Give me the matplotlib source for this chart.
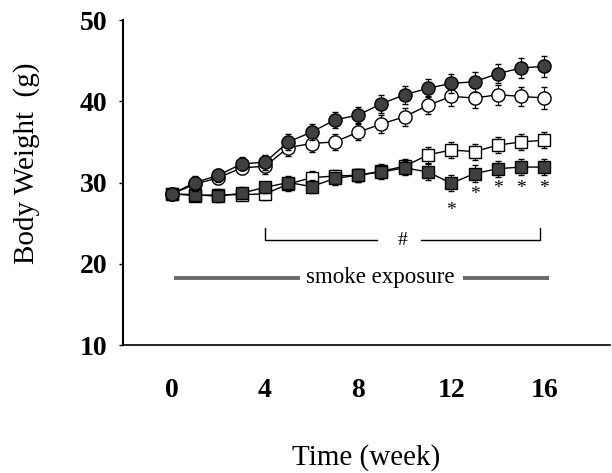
import matplotlib.pyplot as plt

# weeks of follow-up
weeks = list(range(17))

# body weight (g)
filled_circle = [28.6, 30.0, 30.9, 32.3, 32.5, 35.0, 36.2, 37.7, 38.3, 39.7,
                 40.8, 41.6, 42.2, 42.4, 43.4, 44.1, 44.3]
open_circle = [28.6, 29.8, 30.6, 31.8, 32.0, 34.3, 34.8, 35.0, 36.2, 37.2,
               38.1, 39.5, 40.6, 40.4, 40.8, 40.6, 40.4]
open_square = [28.6, 28.4, 28.5, 28.5, 28.6, 29.8, 30.6, 30.8, 30.9, 31.4,
               32.0, 33.4, 34.0, 33.8, 34.6, 35.0, 35.2]
filled_square = [28.6, 28.5, 28.3, 28.7, 29.4, 30.0, 29.5, 30.5, 30.9, 31.3,
                 31.8, 31.3, 29.9, 31.1, 31.7, 31.9, 31.9]

# error bars (g)
err_circle = [0.6, 0.8, 0.8, 0.8, 0.9, 1.0, 1.0, 1.0, 1.0, 1.1,
              1.1, 1.1, 1.2, 1.2, 1.2, 1.2, 1.3]
err_square = [0.6, 0.7, 0.7, 0.7, 0.7, 0.8, 0.8, 0.8, 0.8, 0.9,
              0.9, 1.0, 1.0, 1.0, 1.0, 1.0, 1.0]

# significance stars
star_weeks = [12, 13, 14, 15, 16]
star_y = [26.6, 28.5, 29.3, 29.3, 29.3]

xticks = [0, 4, 8, 12, 16]
yticks = [10, 20, 30, 40, 50]

plt.rcParams['font.family'] = ['Liberation Serif', 'DejaVu Serif']

fig = plt.figure(figsize=(6.12, 4.73), dpi=100)
ax = fig.add_axes([0.201, 0.2706, 0.795, 0.6871])

dark = '#404040'

ax.errorbar(weeks, open_square, yerr=err_square, color='black', lw=1,
            marker='s', ms=8, mfc='white', mec='black', mew=1,
            capsize=2.5, elinewidth=0.8, zorder=3)
ax.errorbar(weeks, filled_square, yerr=err_square, color='black', lw=1,
            marker='s', ms=8, mfc=dark, mec='black', mew=1,
            capsize=2.5, elinewidth=0.8, zorder=4)
ax.errorbar(weeks, open_circle, yerr=err_circle, color='black', lw=1,
            marker='o', ms=9.5, mfc='white', mec='black', mew=1,
            capsize=2.5, elinewidth=0.8, zorder=5)
ax.errorbar(weeks, filled_circle, yerr=err_circle, color='black', lw=1,
            marker='o', ms=9.5, mfc=dark, mec='black', mew=1,
            capsize=2.5, elinewidth=0.8, zorder=6)

for wk, y in zip(star_weeks, star_y):
    ax.text(wk, y, '*', ha='center', va='center', fontsize=14)

# bracket with #
ax.plot([4, 4, 8.8], [24.4, 22.9, 22.9], color='black', lw=1)
ax.plot([10.7, 15.8, 15.8], [22.9, 22.9, 24.4], color='black', lw=1)
ax.text(9.9, 22.9, '#', ha='center', va='center', fontsize=14)

# smoke exposure bar
ax.plot([0.1, 5.5], [18.25, 18.25], color='#6a6a6a', lw=2.8,
        solid_capstyle='butt')
ax.plot([12.5, 16.2], [18.25, 18.25], color='#6a6a6a', lw=2.8,
        solid_capstyle='butt')
ax.text(8.95, 18.25, 'smoke exposure', ha='center', va='center',
        fontsize=16.5)

ax.set_xlim(-2.1, 18.8)
ax.set_ylim(10, 50)
ax.set_xticks(xticks)
ax.set_yticks(yticks)
for lab in ax.get_xticklabels() + ax.get_yticklabels():
    lab.set_fontweight('bold')
ax.tick_params(axis='x', length=0, pad=24, labelsize=20)
ax.tick_params(axis='y', length=3, width=1, pad=8, labelsize=20)

ax.spines['top'].set_visible(False)
ax.spines['right'].set_visible(False)
ax.spines['left'].set_linewidth(1.5)
ax.spines['bottom'].set_linewidth(1.2)

ax.set_xlabel('Time (week)', fontsize=21)
ax.set_ylabel('Body Weight  (g)', fontsize=21)
ax.xaxis.set_label_coords(0.5, -0.305)
ax.yaxis.set_label_coords(-0.17, 0.56)

fig.savefig('out.png', dpi=100)
